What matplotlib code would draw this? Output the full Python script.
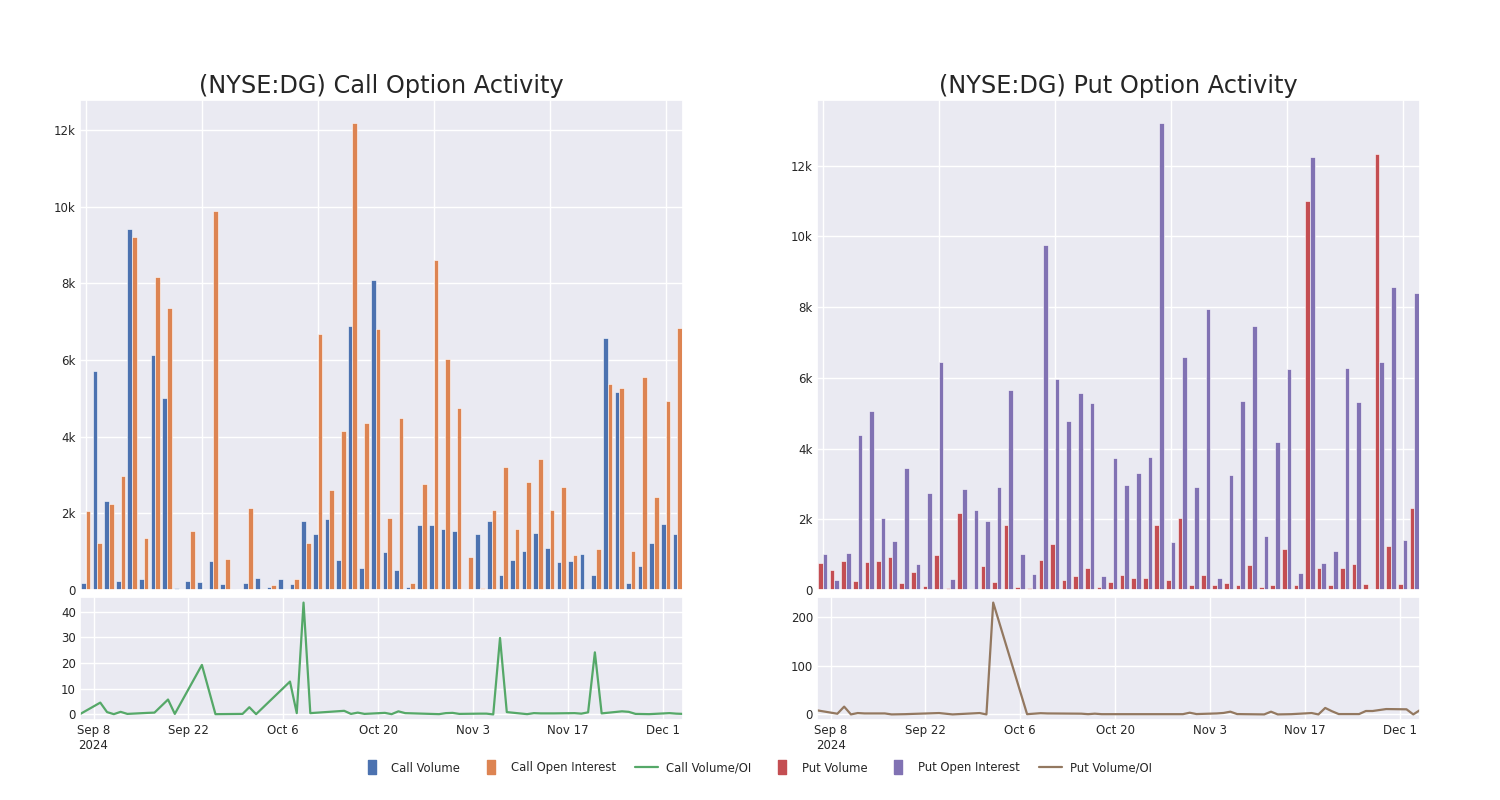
import numpy as np
import pandas as pd
import matplotlib
matplotlib.use("Agg")
import matplotlib.pyplot as plt
from matplotlib.lines import Line2D
from matplotlib.font_manager import FontProperties
import seaborn as sns

sns.set_theme(style="darkgrid")
plt.rcParams['font.family'] = ['DejaVu Sans']

# trading days shown in the chart
dates = pd.to_datetime([
    "2024-09-06", "2024-09-09", "2024-09-10", "2024-09-11", "2024-09-12", "2024-09-13",
    "2024-09-16", "2024-09-17", "2024-09-19", "2024-09-20", "2024-09-24", "2024-09-26",
    "2024-09-30", "2024-10-01", "2024-10-02", "2024-10-07", "2024-10-08", "2024-10-09",
    "2024-10-10", "2024-10-15", "2024-10-16", "2024-10-17", "2024-10-18", "2024-10-21",
    "2024-10-22", "2024-10-23", "2024-10-24", "2024-10-29", "2024-10-30", "2024-10-31",
    "2024-11-01", "2024-11-04", "2024-11-05", "2024-11-06", "2024-11-07", "2024-11-08",
    "2024-11-11", "2024-11-12", "2024-11-13", "2024-11-15", "2024-11-18", "2024-11-19",
    "2024-11-20", "2024-11-21", "2024-11-22", "2024-11-25", "2024-11-26", "2024-11-27",
    "2024-11-29", "2024-12-02", "2024-12-03", "2024-12-04",
])

call_vol = [170, 5710, 2330, 240, 9420, 280, 6130, 5020, 60, 240,
            200, 760, 160, 30, 190, 320, 70, 290, 160, 1790,
            1460, 1860, 780, 6890, 570, 8100, 980, 520, 90, 1690,
            1700, 1600, 1540, 30, 1460, 1800, 390, 790, 1020, 1490,
            1100, 720, 760, 940, 380, 6590, 5180, 190, 630, 1230,
            1710, 1450]
call_oi = [2050, 1220, 2240, 2980, 9220, 1370, 8170, 7370, 10, 1530,
           10, 9900, 820, 10, 2130, 25, 140, 7, 300, 1220,
           6680, 2620, 4140, 12180, 4360, 6820, 1870, 4490, 170, 2770,
           8620, 6020, 4760, 850, 50, 2090, 3220, 1600, 2830, 3430,
           2090, 2700, 920, 20, 1070, 5370, 5260, 1010, 5560, 2440,
           4940, 6830]
call_ratio = [0.1, 4.6, 0.9, 0.1, 1.0, 0.2, 0.6, 0.7, 5.8, 0.2,
              19.3, 0.1, 0.2, 2.8, 0.1, 12.8, 0.5, 43.6, 0.5, 1.4,
              0.2, 0.7, 0.2, 0.6, 0.1, 1.2, 0.5, 0.1, 0.5, 0.6,
              0.2, 0.3, 0.3, 0.0, 29.8, 0.9, 0.1, 0.5, 0.4, 0.4,
              0.5, 0.3, 0.8, 24.2, 0.4, 1.2, 1.0, 0.2, 0.1, 0.5,
              0.3, 0.2]

put_vol = [770, 570, 830, 250, 800, 830, 930, 200, 510, 110,
           980, 70, 2190, 30, 690, 240, 1850, 90, 70, 840,
           1290, 270, 390, 630, 90, 220, 420, 350, 340, 1830,
           290, 2040, 130, 420, 150, 200, 130, 700, 90, 140,
           1170, 140, 11000, 610, 150, 630, 740, 160, 12320, 1250,
           160, 2330]
put_oi = [1020, 280, 1060, 4390, 5050, 2030, 1380, 3460, 730, 2730,
          6440, 310, 2870, 2250, 1960, 2900, 5650, 1020, 450, 9760,
          5980, 4780, 5560, 5300, 390, 3730, 2970, 3300, 3760, 13200,
          1370, 6590, 2920, 7940, 350, 3260, 5350, 7460, 1530, 4190,
          6240, 470, 12250, 770, 1100, 6280, 5330, 10, 6460, 8580,
          1420, 8400]
put_ratio = [8.4, 1.4, 16.0, 0.0, 2.8, 2.0, 2.0, 0.0, 0.5, 1.0,
             2.8, 0.0, 2.8, 0.0, 230.0, 0.5, 1.5, 2.5, 2.0, 1.5,
             0.5, 1.5, 0.5, 0.5, 0.5, 0.5, 0.5, 0.5, 0.5, 3.5,
             0.7, 2.0, 3.0, 5.6, 0.7, 0.5, 0.0, 5.6, 0.0, 0.5,
             2.8, 0.0, 13.3, 6.5, 0.7, 0.7, 7.0, 7.0, 11.0, 10.5,
             0.0, 9.0]

tick_dates = pd.to_datetime(["2024-09-08", "2024-09-22", "2024-10-06", "2024-10-20",
                             "2024-11-03", "2024-11-17", "2024-12-01"])
tick_labels = ["Sep 8\n2024", "Sep 22", "Oct 6", "Oct 20", "Nov 3", "Nov 17", "Dec 1"]

c_blue, c_orange, c_green = "#4C72B0", "#DD8452", "#55A868"
c_red, c_purple, c_brown = "#C44E52", "#8172B3", "#937860"

fig = plt.figure(figsize=(15, 8), dpi=100)
x = np.arange(len(dates))
w = 0.4


def kfmt(v, pos):
    return "0" if v == 0 else f"{int(v / 1000)}k"


def panel(left, title, vol, oi, ratio, col_v, col_oi, col_r, bar_ticks, line_ticks):
    ax = fig.add_axes([left, 0.2625, 0.402, 0.6125])
    ax.bar(x - w / 2, vol, w, color=col_v, edgecolor="white", linewidth=0.4)
    ax.bar(x + w / 2, oi, w, color=col_oi, edgecolor="white", linewidth=0.4)
    ax.set_xlim(-0.5, len(dates) - 0.5)
    ax.set_xticks(np.arange(0, len(dates), 10))
    ax.set_xticklabels([])
    ax.set_yticks(bar_ticks)
    ax.yaxis.set_major_formatter(plt.FuncFormatter(kfmt))
    ax.tick_params(labelsize=8.5, length=0, pad=3)
    ax.set_title(title, fontsize=17.3, color="#262626", pad=5)

    ax2 = fig.add_axes([left, 0.1, 0.402, 0.15375])
    ax2.plot(dates, ratio, color=col_r, linewidth=1.6)
    ax2.set_xlim(dates[0], dates[-1])
    ax2.set_xticks(tick_dates)
    ax2.set_xticklabels(tick_labels)
    ax2.set_yticks(line_ticks)
    ax2.tick_params(labelsize=8.5, length=0, pad=3)
    return ax, ax2


panel(0.0533, "(NYSE:DG) Call Option Activity", call_vol, call_oi, call_ratio,
      c_blue, c_orange, c_green, np.arange(0, 12001, 2000), [0, 10, 20, 30, 40])
panel(0.5447, "(NYSE:DG) Put Option Activity", put_vol, put_oi, put_ratio,
      c_red, c_purple, c_brown, np.arange(0, 12001, 2000), [0, 100, 200])

box = [(-0.6, -1), (0.6, -1), (0.6, 1), (-0.6, 1), (-0.6, -1)]
handles = [
    Line2D([], [], marker=box, markersize=10, linestyle="none", color=c_blue, label="Call Volume"),
    Line2D([], [], marker=box, markersize=10, linestyle="none", color=c_orange, label="Call Open Interest"),
    Line2D([], [], color=c_green, linewidth=1.6, label="Call Volume/OI"),
    Line2D([], [], marker=box, markersize=10, linestyle="none", color=c_red, label="Put Volume"),
    Line2D([], [], marker=box, markersize=10, linestyle="none", color=c_purple, label="Put Open Interest"),
    Line2D([], [], color=c_brown, linewidth=1.6, label="Put Volume/OI"),
]
legend_font = FontProperties(family="DejaVu Sans", stretch="condensed", size=9.3)
fig.legend(handles=handles, loc="center", bbox_to_anchor=(0.504, 0.04), ncol=6,
           frameon=False, handlelength=1.8, columnspacing=1.5, handletextpad=0.6,
           prop=legend_font)

fig.savefig("out.png", dpi=100)
